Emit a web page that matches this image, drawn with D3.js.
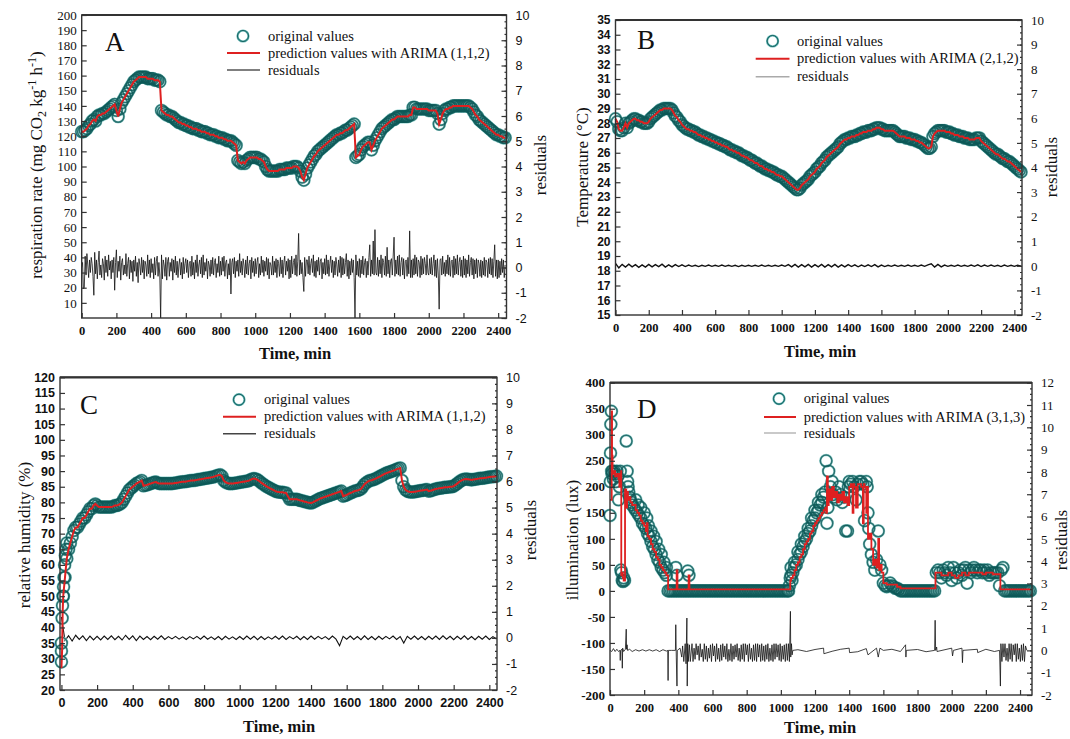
<!DOCTYPE html>
<html><head><meta charset="utf-8">
<script src="https://cdn.jsdelivr.net/npm/d3@7"></script>
<style>
body{margin:0;background:#fff;}
</style></head><body>
<svg id="c" width="1070" height="739"></svg>
<script>
// ===================== DATA =====================
// Panel A: respiration rate, sampled every 10 min (t = 0..2440)
const timeA = d3.range(0, 2450, 10);
const respA = [
123,123,124,125,127,128,130,131,130,133,
134,134,135,135,136,137,138,139,140,141,
137,133,138,142,144,146,148,150,152,154,
156,157,158,159,159,159,159,159,158,158,
158,158,157,157,157,156,137,136,135,134,
134,133,133,132,131,130,129,129,128,128,
127,127,126,126,125,125,125,124,124,123,
123,123,122,122,121,121,121,120,120,119,
119,119,118,118,117,117,117,116,115,114,
104,103,102,103,102,104,105,106,106,106,
106,106,105,105,104,103,100,98,97,97,
97,97,97,97,98,98,98,98,99,99,
99,99,100,100,100,99,97,93,91,95,
99,101,103,105,107,108,110,111,112,113,
114,115,116,117,118,119,120,121,121,122,
122,123,124,124,125,126,127,128,106,107,
108,111,113,114,115,116,116,111,114,117,
119,121,123,125,126,127,128,129,130,131,
131,132,133,133,133,133,133,133,133,134,
134,139,139,138,138,138,138,138,138,138,
137,137,137,137,137,135,128,131,135,137,
138,138,139,139,140,140,140,140,140,140,
140,140,140,140,139,138,136,134,133,131,
130,129,128,127,126,125,124,123,122,121,
121,120,120,119,119];
// residuals of A, every 5 min (t = 0..2440)
const resTimeA = d3.range(0, 2445, 5);
const residA = [
0.0,0.2,-0.85,-0.8,0.45,-0.3,0.55,0.1,-0.4,0.3,
-0.2,0.4,0.15,-0.35,-1.1,0.6,-0.25,0.3,-0.45,0.2,
0.65,-0.3,0.1,-0.4,0.35,0.15,-0.5,0.45,-0.2,0.3,
-0.35,0.5,-0.1,0.25,-0.45,0.3,-0.2,0.4,-0.9,0.2,
0.7,-0.4,0.25,-0.15,0.45,-0.5,0.2,0.35,-0.3,0.1,
-0.25,0.55,-0.35,0.15,0.4,-0.45,0.3,-0.2,0.25,-0.55,
0.3,-0.15,0.45,-0.35,0.2,-0.6,0.35,0.1,-0.3,0.4,
-0.2,0.3,-0.45,0.25,0.1,-0.35,0.5,-0.25,0.3,-0.4,
0.35,-0.2,0.15,-0.45,0.4,-0.3,0.25,0.45,-0.35,0.2,
-0.3,-2.0,0.5,-0.45,0.3,0.1,-0.35,0.4,-0.5,0.25,
0.4,-0.35,0.2,-0.15,0.35,-0.5,0.3,-0.2,0.45,-0.3,
0.25,-0.4,0.1,0.35,-0.3,0.2,-0.45,0.4,-0.25,0.15,
0.35,-0.2,0.3,-0.4,0.15,0.25,-0.35,0.45,-0.3,0.2,
-0.45,0.3,-0.2,0.5,-0.35,0.1,0.3,-0.25,0.4,-0.4,
0.5,-0.3,0.2,-0.15,0.35,-0.45,0.25,0.1,-0.35,0.3,
-0.25,0.4,-0.3,0.2,0.35,-0.4,0.15,-0.2,0.45,-0.35,
0.25,-0.3,0.4,-0.15,0.45,-0.35,0.2,0.3,-0.45,0.15,
-0.3,0.35,-1.05,0.2,0.35,-0.25,0.4,-0.4,0.25,-0.15,
0.3,-0.35,0.55,-0.2,0.25,-0.3,0.35,0.1,-0.4,0.3,
-0.25,0.45,-0.3,0.15,0.3,-0.45,0.4,-0.2,0.25,-0.35,
0.35,-0.25,0.2,0.4,-0.4,0.15,-0.3,0.45,-0.2,0.3,
-0.35,0.25,-0.15,0.4,-0.3,0.35,-0.45,0.2,0.1,-0.3,
0.45,-0.3,0.25,-0.2,0.35,-0.4,0.3,0.15,-0.35,0.4,
-0.25,0.3,-0.4,0.2,0.45,-0.3,0.25,-0.15,0.35,-0.45,
0.3,-0.4,0.45,-0.25,0.2,0.35,-0.3,0.5,-0.35,0.25,
1.35,-0.3,0.3,-0.25,0.2,-0.4,-0.95,0.4,-0.35,0.3,
0.3,-0.25,0.45,-0.3,0.15,0.35,-0.2,0.5,-0.35,0.25,
-0.4,0.3,-0.15,0.4,-0.3,0.25,0.35,-0.45,0.2,-0.25,
0.35,-0.3,0.5,-0.25,0.3,-0.35,0.15,0.45,-0.2,0.3,
-0.4,0.25,-0.3,0.4,0.1,-0.35,0.3,-0.2,0.45,-0.4,
0.4,-0.3,0.35,-0.25,0.2,0.55,-0.35,0.3,-0.45,0.25,
-0.3,0.35,-0.2,0.3,-0.4,-2.0,0.5,-0.3,0.25,-0.35,
0.35,-0.4,0.3,-0.25,0.45,-0.3,0.2,0.35,-0.4,0.25,
-0.3,0.4,0.9,-0.35,0.3,-0.25,1.05,-0.3,1.5,-0.2,
-0.3,0.4,-0.35,0.3,-0.25,0.5,-0.4,0.35,0.2,-0.3,
0.45,-0.35,0.8,-0.25,0.3,-0.4,0.25,0.35,-0.3,0.45,
1.2,-0.35,0.3,-0.25,0.45,-0.3,0.5,-0.35,0.2,0.4,
-0.3,0.35,-0.45,0.25,0.3,-0.35,0.4,-0.25,1.45,-0.4,
0.3,-0.4,0.35,-0.3,0.5,-0.25,0.4,-0.35,0.3,0.2,
-0.4,0.45,-0.3,0.35,-0.25,0.4,0.15,-0.3,0.5,-0.2,
-0.3,0.35,-0.25,0.4,-0.3,0.15,0.5,-0.35,0.3,-0.4,
0.35,-0.3,-1.65,0.3,0.35,-0.3,0.45,-0.25,0.2,-0.35,
0.3,-0.25,0.5,-0.3,0.4,-0.35,0.25,0.3,-0.4,0.45,
-0.3,0.35,-0.25,0.5,-0.3,0.2,0.4,-0.35,0.3,-0.4,
0.45,-0.3,0.35,-0.4,0.3,-0.25,0.5,-0.35,0.2,0.4,
-0.3,0.35,-0.45,0.3,-0.25,0.35,-0.4,0.3,0.15,-0.35,
0.3,-0.4,0.25,-0.3,0.4,-0.35,0.3,0.2,-0.4,0.35,
-0.25,0.4,-0.3,0.35,-0.4,0.25,0.9,-0.35,0.3,-0.45,
0.3,-0.4,0.25,-0.3,0.35,-0.2,0.3,-0.4,0.1];

// Panel B: temperature, every 10 min
const timeB = d3.range(0, 2450, 10);
const tempB = [
28.3,28.1,27.6,27.5,27.5,27.7,28.0,27.7,28.0,28.1,
28.2,28.3,28.3,28.2,28.2,28.1,28.1,28.0,28.0,28.0,
28.1,28.3,28.4,28.5,28.6,28.7,28.8,28.9,28.9,29.0,
29.0,29.0,29.0,29.0,28.9,28.7,28.5,28.4,28.2,28.1,
27.9,27.8,27.7,27.6,27.6,27.5,27.5,27.4,27.4,27.3,
27.2,27.2,27.1,27.1,27.0,27.0,26.9,26.9,26.8,26.8,
26.7,26.7,26.6,26.6,26.5,26.5,26.4,26.4,26.3,26.2,
26.2,26.1,26.1,26.0,26.0,25.9,25.8,25.8,25.7,25.7,
25.6,25.5,25.5,25.4,25.3,25.3,25.2,25.1,25.1,25.0,
24.9,24.9,24.8,24.8,24.7,24.7,24.6,24.5,24.5,24.4,
24.4,24.3,24.2,24.1,24.0,23.9,23.8,23.7,23.6,23.5,
23.5,23.6,23.8,23.9,24.0,24.1,24.2,24.4,24.5,24.6,
24.7,24.9,25.0,25.1,25.3,25.4,25.5,25.7,25.8,25.9,
26.0,26.1,26.2,26.3,26.4,26.6,26.7,26.8,26.9,26.9,
27.0,27.0,27.1,27.1,27.1,27.2,27.2,27.3,27.3,27.4,
27.4,27.4,27.5,27.5,27.5,27.6,27.6,27.7,27.7,27.7,
27.6,27.6,27.5,27.5,27.5,27.5,27.5,27.5,27.4,27.3,
27.2,27.1,27.1,27.1,27.1,27.0,27.0,27.0,26.9,26.9,
26.9,26.8,26.8,26.7,26.7,26.6,26.5,26.4,26.3,26.3,
26.4,27.1,27.3,27.4,27.5,27.5,27.5,27.5,27.5,27.4,
27.4,27.4,27.3,27.3,27.2,27.2,27.2,27.1,27.1,27.1,
27.0,27.0,27.0,26.9,26.9,26.9,26.9,27.0,27.0,27.0,
26.8,26.7,26.6,26.5,26.4,26.3,26.2,26.1,26.0,25.9,
25.9,25.8,25.7,25.6,25.6,25.5,25.4,25.4,25.3,25.2,
25.1,25.0,24.9,24.8,24.7];
const resTimeB = d3.range(0, 2450, 20);
const residB = [
0.1,-0.08,0.06,-0.05,0.07,-0.04,0.05,-0.06,0.04,-0.05,
0.06,-0.04,0.05,-0.03,0.07,-0.05,0.04,-0.04,0.05,-0.03,
0.04,-0.03,0.03,-0.02,0.02,-0.03,0.02,-0.02,0.03,-0.02,
0.02,-0.02,0.03,-0.02,0.02,-0.02,0.02,-0.03,0.02,-0.02,
0.02,-0.02,0.02,-0.02,0.03,-0.02,0.02,-0.02,0.02,-0.02,
0.03,-0.02,0.05,-0.04,0.06,-0.05,0.05,-0.04,0.06,-0.05,
0.05,-0.04,0.06,-0.05,0.05,-0.04,0.06,-0.05,0.04,-0.04,
0.05,-0.03,0.04,-0.04,0.03,-0.03,0.04,-0.03,0.05,-0.04,
0.03,-0.03,0.02,-0.02,0.03,-0.02,0.02,-0.02,0.03,-0.02,
0.02,-0.02,0.03,-0.02,0.04,0.08,-0.05,0.06,-0.04,0.03,
-0.02,0.02,-0.02,0.03,-0.02,0.02,-0.02,0.03,-0.02,0.04,
-0.03,0.03,-0.02,0.03,-0.02,0.02,-0.03,0.03,-0.02,0.02,
-0.02,0.02,-0.01];

// Panel C: relative humidity
const earlyTimeC = [0,0,0,4,6,10,12,15,18,22,26,30];
const earlyHumC  = [29,32.5,35,43,47,50,53,56,60,63,65,67];
const earlyPredTimeC = [0,4,7,10];
const earlyPredC = [27,33,45,50];
const timeC = d3.range(10, 2450, 10);
const humC = [
50,56,62,65,67,69,71,72,72,
73,74,75,75,76,77,78,78,79,79.5,
79,78.5,78.5,78.5,78.5,78.5,78.5,78.5,78.5,78.7,
79,79,79.2,79.5,80,81,82,83,84,84.5,
85,85.5,86,86.3,86.6,87,85.3,85.5,85.6,85.8,
86,86.2,86.4,86.5,86.2,86,86,86,86,86,
86,86,86,86.1,86.2,86.3,86.4,86.5,86.6,86.6,
86.7,86.8,86.9,87,87,87.1,87.2,87.3,87.4,87.5,
87.6,87.7,87.8,87.9,88,88.1,88.3,88.5,88.7,88.8,
88.4,87,86.5,86.2,86,86,86,86.1,86.2,86.3,
86.4,86.5,86.6,86.7,86.8,86.9,87.2,87.5,87.6,87.5,
87.2,86.8,86.3,85.9,85.5,85.1,84.8,84.5,84.2,83.9,
83.6,83.4,83.3,83.2,83.2,83.1,83,82,81,81,
81,81,81,80.8,80.6,80.5,80.3,80.2,80,79.9,
79.8,80,80.3,80.6,80.9,81.2,81.4,81.6,81.8,82,
82.2,82.4,82.6,82.8,83,83.2,83.4,83.6,82,82.2,
82.4,82.7,83,83.2,83.5,83.7,83.8,84,84.3,85,
85.8,86.3,86.7,87,87.1,87.3,87.5,87.8,88.1,88.4,
88.7,89,89.3,89.5,89.7,89.9,90.1,90.3,90.6,90.8,
91,87,85,84,83.6,83.4,83.3,83.3,83.4,83.5,
83.6,83.7,83.8,83.9,84,84.1,83.6,83.7,83.9,84.1,
84.3,84.4,84.5,84.6,84.7,84.8,84.8,84.9,85,85,
85.2,85.6,86,86.5,86.9,87.2,87.4,87.5,87.4,87.3,
87.2,87.3,87.4,87.5,87.6,87.7,87.7,87.8,87.9,88,
88.1,88.2,88.2,88.3,88.4];
const resTimeC = d3.range(0, 2450, 20);
const residC = [
0.8,-0.1,0.08,-0.12,0.1,-0.06,0.08,-0.1,0.07,-0.08,
0.06,-0.08,0.07,-0.06,0.08,-0.07,0.06,-0.08,0.1,-0.06,
0.08,-0.1,0.07,-0.06,0.05,-0.07,0.06,-0.05,0.08,-0.06,
0.05,-0.04,0.06,-0.05,0.04,-0.06,0.05,-0.04,0.06,-0.05,
0.07,-0.05,0.04,-0.06,0.05,-0.07,0.06,-0.05,0.04,-0.06,
0.05,-0.06,0.07,-0.05,0.06,-0.07,0.05,-0.06,0.04,-0.05,
0.06,-0.05,0.07,-0.06,0.05,-0.04,0.06,-0.07,0.05,-0.06,
0.07,-0.05,0.06,-0.04,0.05,-0.06,0.07,-0.05,-0.3,0.06,
-0.05,0.07,-0.06,0.05,-0.07,0.08,-0.06,0.05,-0.07,0.06,
-0.05,0.06,-0.04,0.07,-0.06,0.05,-0.2,0.06,-0.05,0.07,
-0.06,0.05,-0.07,0.06,-0.05,0.07,-0.06,0.08,-0.05,0.06,
-0.07,0.06,-0.05,0.08,-0.06,0.05,-0.07,0.06,-0.05,0.07,
-0.06,0.05,-0.04];

// Panel D: illumination (irregular readings)
const timeD = [0,2,3,5,8,10,12,15,20,25,30,35,40,45,50,55,60,64,68,72,76,80,85,95,100,103,106,110,115,120,125,130,140,150,160,170,180,190,200,210,220,230,240,250,260,270,280,290,300,310,320,330,
150,165,180,200,215,225,240,255,270,285,300,315,330,
385,392,455,462,
1045,1050,1055,1060,1065,1070,1080,1090,1100,1110,1120,1130,1140,1150,1160,1170,1180,1190,1200,1210,1220,1230,1240,1250,1260,
1060,1080,1100,1120,1140,1160,1180,1200,1220,1240,
1265,1270,1275,1280,1290,1300,1305,1310,1320,1330,1340,1350,1360,1370,1380,1390,1395,1400,1410,1420,1430,1440,1450,1460,1470,1480,1490,1500,1505,1510,1515,1520,1530,1540,1550,1560,1570,1580,1590,1600,1610,1620,1630,1640,1650,1660,1670,1680,1690,
1910,1920,1930,1940,1950,1960,1970,1980,1990,2000,2010,2020,2030,2040,2050,2060,2070,2080,2090,2100,2110,2120,2130,2140,2150,2160,2170,2180,2190,2200,2210,2220,2230,2240,2250,2260,2270,2280,2290,2300];
const luxD = [145,210,265,320,345,230,225,230,215,230,225,210,230,220,175,200,230,40,35,20,18,25,20,288,230,210,200,190,180,175,170,165,160,155,150,145,140,130,125,120,110,105,95,85,80,70,60,55,45,40,35,30,
175,165,160,150,140,125,115,105,95,80,70,55,45,
45,30,38,30,
0,10,25,30,20,35,45,50,60,70,75,85,95,100,110,115,125,135,140,150,155,165,170,180,190,
45,55,75,90,105,120,140,155,170,185,
250,130,160,230,200,210,185,180,190,175,200,185,170,180,115,115,200,210,205,210,200,175,205,210,210,205,135,210,200,150,120,90,70,55,40,60,115,50,40,15,10,8,10,15,10,8,5,5,3,
35,40,35,25,40,35,30,45,35,20,45,35,25,35,40,30,40,45,15,40,35,40,45,40,35,40,40,35,40,35,40,30,35,35,35,35,35,10,40,45];
// periods where the sensor read 0 lux: [start, end] in min
const zeroRunsD = [[340, 1040], [1700, 1900], [2310, 2460]];
const predTimeD = [0,8,10,12,15,20,30,40,50,55,60,65,66,70,75,80,85,88,95,100,105,110,120,130,140,150,160,170,180,190,200,210,215,220,230,240,250,260,270,280,290,300,310,320,330,340,385,390,395,455,460,465,1050,1055,1060,1070,1080,1090,1100,1110,1120,1130,1140,1150,1160,1170,1180,1190,1200,1210,1220,1230,1240,1250,1260,1265,1270,1275,1280,1290,1300,1310,1320,1330,1340,1350,1360,1370,1380,1390,1400,1410,1420,1425,1430,1440,1450,1460,1470,1480,1485,1490,1500,1505,1510,1520,1530,1540,1550,1560,1570,1575,1580,1590,1600,1620,1640,1660,1680,1700,1900,1905,1920,1940,1960,1980,2000,2020,2040,2060,2080,2100,2120,2140,2160,2180,2200,2240,2280,2285,2460];
const predD = [175,175,345,260,225,230,220,225,215,200,225,230,30,35,25,20,20,195,160,190,175,180,170,165,165,155,150,145,135,130,125,115,130,105,100,90,80,75,65,60,50,45,40,35,30,3,3,40,3,3,30,3,3,20,25,30,40,50,55,65,70,80,90,95,100,110,115,125,130,135,140,145,150,155,160,150,220,165,195,175,200,180,190,170,185,175,190,170,180,165,200,205,150,205,200,160,205,205,200,130,205,200,150,200,100,110,80,50,60,45,100,40,50,35,15,12,12,12,8,5,5,35,35,30,30,35,30,25,30,35,30,35,35,35,35,32,35,32,32,3,3];
const resTimeD = [0,10,20,30,40,50,58,60,62,70,72,74,80,90,95,97,100,103,115,130,150,170,190,210,230,250,270,290,310,330,338,340,342,360,383,385,388,392,394,410,420,425,432,440,445,450,452,455,458,465,470,
480,486,492,498,504,510,516,522,528,534,540,546,552,558,564,570,576,582,588,594,600,606,612,618,624,630,636,642,648,654,660,666,672,678,684,690,696,702,708,714,720,726,732,738,744,750,756,762,768,774,780,786,792,798,804,810,816,822,828,834,840,846,852,858,864,870,876,882,888,894,900,906,912,918,924,930,936,942,948,954,960,966,972,978,984,990,996,1002,1008,1014,1020,1026,1032,1038,1044,1050,1056,1058,1062,1066,1070,
1100,1150,1200,1250,1252,1300,1350,1400,1402,1450,1500,1510,1560,1570,1580,1600,1650,1700,1730,1732,1734,1800,1850,1900,1903,1906,1912,1914,2000,2005,2010,2060,2063,2066,2150,2152,2200,2250,2280,2285,2288,2294,2300,2306,2312,2318,2324,2330,2336,2342,2348,2354,2360,2366,2372,2378,2384,2390,2396,2402,2408,2414,2420,2426,2432,2440];
const residD = [0,-0.05,0.08,-0.05,0.05,-0.05,0,-0.45,0,0.05,-0.8,0.1,-0.05,0.05,0.95,0.05,0.25,0,0.05,-0.05,0.03,-0.03,0.03,-0.03,0.03,-0.03,0.03,-0.05,0.03,-0.03,0,-1.35,0,0,0,1.15,-0.3,-1.6,0,0.1,-0.3,0.2,-0.5,0.3,-0.6,1.45,-1.6,0.3,-0.5,0.25,-0.5,
0.3,-0.5,0.1,-0.4,0.3,-0.2,0.2,-0.45,0.3,-0.3,0.05,-0.5,0.3,-0.4,0.2,-0.5,0.1,-0.35,0.25,-0.5,0.3,-0.25,0.2,-0.5,0.3,-0.4,0.1,-0.5,0.25,-0.45,0.3,-0.3,0.2,-0.4,0.3,-0.5,0.05,-0.45,0.3,-0.5,0.2,-0.4,0.25,-0.3,0.3,-0.45,0.1,-0.5,0.25,-0.4,0.3,-0.5,0.3,-0.2,0.25,-0.5,0.3,-0.4,0.1,-0.5,0.25,-0.45,0.3,-0.5,0.3,-0.3,0.25,-0.5,0.3,-0.45,0.2,-0.5,0.25,-0.4,0.3,-0.5,0.1,-0.45,0.25,-0.5,0.3,-0.4,0.3,-0.3,0.25,-0.45,0.3,-0.5,0.2,-0.4,0.25,-0.5,0.3,-0.45,0.3,-0.5,1.75,-0.3,0.3,-0.2,0,
0.03,-0.05,0.04,0.1,-0.15,-0.04,0.05,0.1,-0.1,-0.06,0.08,-0.2,0.1,-0.3,0.1,0,0.05,-0.05,0.25,-0.3,0,0.04,-0.06,0,1.35,0,0.15,-0.05,0.1,-0.25,0,0.1,-0.55,0,0.05,-0.1,0.05,-0.05,0,-1.6,0.3,-0.5,0.3,-0.3,0.3,-0.45,0.1,-0.5,0.3,-0.4,0.3,-0.5,0.25,-0.2,0.3,-0.5,0.3,-0.4,0.1,-0.5,0.25,-0.45,0.3,-0.5,0.2,0];

// axis ticks
const xTicks = [0,200,400,600,800,1000,1200,1400,1600,1800,2000,2200,2400];
const yTicksA = d3.range(10, 201, 10);
const yTicksB = d3.range(15, 36, 1);
const yTicksC = d3.range(20, 121, 5);
const yTicksD = d3.range(-200, 401, 50);
const rTicks10 = [-2,-1,0,1,2,3,4,5,6,7,8,9,10];
const rTicks12 = [-2,-1,0,1,2,3,4,5,6,7,8,9,10,11,12];

// ===================== DRAWING =====================
const SERIF = "'Liberation Serif','Times New Roman',serif";
const SANS = "'Liberation Sans',Arial,sans-serif";
const svg = d3.select("#c");

function buildOrig(times, vals, extraT, extraV, runs) {
  const pts = d3.zip(times, vals);
  if (extraT) pts.push(...d3.zip(extraT, extraV));
  if (runs) runs.forEach(r => d3.range(r[0], r[1] + 1, 10).forEach(t => pts.push([t, 0])));
  return pts;
}

function drawPanel(p) {
  const x = d3.scaleLinear().domain(p.xDomain).range([p.left, p.right]);
  const y = d3.scaleLinear().domain(p.yDomain).range([p.bottom, p.top]);
  const yr = d3.scaleLinear().domain(p.rDomain).range([p.bottom, p.top]);
  const g = svg.append("g");

  // residuals
  g.append("path").datum(d3.zip(p.resT, p.resV))
    .attr("d", d3.line().x(d => x(d[0])).y(d => yr(d[1])))
    .attr("fill", "none").attr("stroke", "#111").attr("stroke-width", p.resW || 0.8);

  // original values (open circles)
  g.append("g").selectAll("circle").data(p.orig).join("circle")
    .attr("cx", d => x(d[0])).attr("cy", d => y(d[1])).attr("r", 5.8)
    .attr("fill", "none").attr("stroke", "#9fd8d5").attr("stroke-width", 2.4);
  g.append("g").selectAll("circle").data(p.orig).join("circle")
    .attr("cx", d => x(d[0])).attr("cy", d => y(d[1])).attr("r", 5.8)
    .attr("fill", "none").attr("stroke", "#0c5957").attr("stroke-width", 1.5)
    .attr("stroke-opacity", 0.8);

  // prediction line
  g.append("path").datum(p.pred)
    .attr("d", d3.line().curve(p.curve || d3.curveLinear).x(d => x(d[0])).y(d => y(d[1])))
    .attr("fill", "none").attr("stroke", "#de2020").attr("stroke-width", p.predW || 2);

  // frame
  g.append("rect").attr("x", p.left).attr("y", p.top)
    .attr("width", p.right - p.left).attr("height", p.bottom - p.top)
    .attr("fill", "none").attr("stroke", "#333").attr("stroke-width", 1.4);
  g.append("line").attr("x1", p.left).attr("x2", p.right).attr("y1", p.top).attr("y2", p.top)
    .attr("stroke", "#333").attr("stroke-width", 2.2);

  // axes
  const styleAxis = (sel, font, size, weight) => {
    sel.select(".domain").remove();
    sel.selectAll("line").attr("stroke", "#333").attr("stroke-width", 1.2);
    sel.selectAll("text").attr("font-family", font).attr("font-size", size)
      .attr("font-weight", weight).attr("fill", "#111");
  };
  const fmt = d => String(d);
  g.append("g").attr("transform", `translate(${p.left},0)`)
    .call(d3.axisLeft(y).tickValues(p.yTicks).tickSize(-5).tickPadding(5).tickFormat(fmt))
    .call(s => styleAxis(s, p.yFont, p.yFs, p.yFw));
  g.append("g").attr("transform", `translate(${p.right},0)`)
    .call(d3.axisRight(yr).tickValues(p.rTicks).tickSize(-5).tickPadding(9).tickFormat(fmt))
    .call(s => styleAxis(s, p.rFont, p.rFs, p.rFw));
  g.append("g").attr("transform", `translate(${p.right},0)`)
    .call(d3.axisRight(yr).tickValues(d3.range(p.rDomain[0], p.rDomain[1], 0.25)).tickSize(-2).tickFormat(""))
    .call(s => styleAxis(s, p.rFont, p.rFs, p.rFw));
  g.append("g").attr("transform", `translate(0,${p.bottom})`)
    .call(d3.axisBottom(x).tickValues(xTicks).tickSize(-5).tickPadding(8).tickFormat(fmt))
    .call(s => styleAxis(s, p.xFont, p.xFs, p.xFw));

  // panel letter
  g.append("text").attr("x", p.letterX).attr("y", p.letterY).text(p.letter)
    .attr("font-family", SERIF).attr("font-size", 27).attr("fill", "#111");

  // legend
  const L = p.legend;
  g.append("circle").attr("cx", L.cx).attr("cy", L.y1).attr("r", 5.5)
    .attr("fill", "none").attr("stroke", "#5fb3b1").attr("stroke-width", 2.2);
  g.append("circle").attr("cx", L.cx).attr("cy", L.y1).attr("r", 5.5)
    .attr("fill", "none").attr("stroke", "#0b5756").attr("stroke-width", 0.9);
  g.append("line").attr("x1", L.lx1).attr("x2", L.lx2).attr("y1", L.y2).attr("y2", L.y2)
    .attr("stroke", "#de2020").attr("stroke-width", 2);
  g.append("line").attr("x1", L.lx1).attr("x2", L.lx2).attr("y1", L.y3).attr("y2", L.y3)
    .attr("stroke", p.resLegendColor).attr("stroke-width", 1.6);
  const lt = [["original values", L.y1], [p.predLabel, L.y2], ["residuals", L.y3]];
  lt.forEach(([t, yy]) => g.append("text").attr("x", L.tx).attr("y", yy).attr("dy", "0.33em")
    .text(t).attr("font-family", SERIF).attr("font-size", 14.5).attr("fill", "#111"));

  // axis titles
  const yt = g.append("text").attr("transform", `translate(${p.yTitleX},${p.yTitleY}) rotate(-90)`)
    .attr("text-anchor", "middle").attr("font-family", SERIF).attr("font-size", 17).attr("fill", "#111");
  p.yTitle(yt);
  g.append("text").attr("transform", `translate(${p.rTitleX},${p.rTitleY}) rotate(-90)`)
    .attr("text-anchor", "middle").attr("font-family", SERIF).attr("font-size", 17).attr("fill", "#111")
    .text("residuals");
  g.append("text").attr("x", p.xTitleX).attr("y", p.xTitleY).attr("text-anchor", "middle")
    .attr("font-family", SERIF).attr("font-size", 16.5).attr("font-weight", "bold").attr("fill", "#111")
    .text("Time, min");
}

// Panel A
drawPanel({
  left: 81.7, right: 506.5, top: 15, bottom: 318,
  xDomain: [0, 2448], yDomain: [0, 200], rDomain: [-2, 10],
  yTicks: yTicksA, rTicks: rTicks10,
  yFont: SERIF, yFs: 13, yFw: "normal",
  rFont: SANS, rFs: 12.5, rFw: "normal",
  xFont: SERIF, xFs: 12.5, xFw: "bold",
  orig: buildOrig(timeA, respA),
  pred: d3.zip(timeA, respA),
  resT: resTimeA, resV: residA, resW: 0.8,
  letter: "A", letterX: 105, letterY: 51,
  legend: {cx: 243, tx: 268, lx1: 227, lx2: 260, y1: 36, y2: 53, y3: 70},
  predLabel: "prediction values with ARIMA (1,1,2)", resLegendColor: "#555",
  yTitleX: 42, yTitleY: 165,
  yTitle: t => {
    t.append("tspan").text("respiration rate (mg CO");
    t.append("tspan").attr("dy", 4).attr("font-size", 12).text("2");
    t.append("tspan").attr("dy", -4).text(" kg");
    t.append("tspan").attr("dy", -6).attr("font-size", 12).text("-1");
    t.append("tspan").attr("dy", 6).text(" h");
    t.append("tspan").attr("dy", -6).attr("font-size", 12).text("-1");
    t.append("tspan").attr("dy", 6).text(")");
  },
  rTitleX: 546, rTitleY: 165, xTitleX: 295, xTitleY: 359
});

// Panel B
drawPanel({
  left: 615.5, right: 1022, top: 20, bottom: 315,
  xDomain: [0, 2446], yDomain: [15, 35], rDomain: [-2, 10],
  yTicks: yTicksB, rTicks: rTicks10,
  yFont: SANS, yFs: 12, yFw: "bold",
  rFont: SERIF, rFs: 13, rFw: "normal",
  xFont: SERIF, xFs: 12.5, xFw: "bold",
  orig: buildOrig(timeB, tempB),
  pred: d3.zip(timeB, tempB),
  resT: resTimeB, resV: residB, resW: 1.4,
  letter: "B", letterX: 637, letterY: 49,
  legend: {cx: 772.6, tx: 797, lx1: 755.7, lx2: 789.5, y1: 41, y2: 58.7, y3: 76.7},
  predLabel: "prediction values with ARIMA (2,1,2)", resLegendColor: "#aaa",
  yTitleX: 588, yTitleY: 167,
  yTitle: t => t.text("Temperature (°C)"),
  rTitleX: 1057, rTitleY: 167, xTitleX: 820, xTitleY: 357
});

// Panel C
drawPanel({
  left: 60, right: 497, top: 377.3, bottom: 690,
  xDomain: [-8, 2443], yDomain: [20, 120], rDomain: [-2, 10],
  yTicks: yTicksC, rTicks: rTicks10,
  yFont: SANS, yFs: 12.5, yFw: "bold",
  rFont: SANS, rFs: 12.5, rFw: "normal",
  xFont: SANS, xFs: 12.5, xFw: "bold",
  orig: buildOrig(timeC, humC, earlyTimeC, earlyHumC),
  pred: d3.zip(earlyPredTimeC, earlyPredC).concat(d3.zip(timeC, humC)),
  resT: resTimeC, resV: residC, resW: 1.1,
  letter: "C", letterX: 80, letterY: 414,
  legend: {cx: 239, tx: 264, lx1: 223, lx2: 256, y1: 399.7, y2: 416.7, y3: 433.7},
  predLabel: "prediction values with ARIMA (1,1,2)", resLegendColor: "#444",
  yTitleX: 30, yTitleY: 535,
  yTitle: t => t.text("relative humidity (%)"),
  rTitleX: 536, rTitleY: 530, xTitleX: 279, xTitleY: 732
});

// Panel D
drawPanel({
  left: 610, right: 1032, top: 382.7, bottom: 695,
  xDomain: [0, 2470], yDomain: [-200, 400], rDomain: [-2, 12],
  yTicks: yTicksD, rTicks: rTicks12,
  yFont: SERIF, yFs: 13, yFw: "bold",
  rFont: SERIF, rFs: 13, rFw: "normal",
  xFont: SERIF, xFs: 12.5, xFw: "bold",
  orig: buildOrig(timeD, luxD, null, null, zeroRunsD),
  pred: d3.zip(predTimeD, predD), curve: d3.curveStepAfter, predW: 1.8,
  resT: resTimeD, resV: residD, resW: 0.8,
  letter: "D", letterX: 637, letterY: 418,
  legend: {cx: 779, tx: 803.7, lx1: 764, lx2: 796, y1: 398.7, y2: 417, y3: 433},
  predLabel: "prediction values with ARIMA (3,1,3)", resLegendColor: "#bbb",
  yTitleX: 578, yTitleY: 540,
  yTitle: t => t.text("illumination (lux)"),
  rTitleX: 1067, rTitleY: 540, xTitleX: 820, xTitleY: 733
});
</script>
</body></html>
